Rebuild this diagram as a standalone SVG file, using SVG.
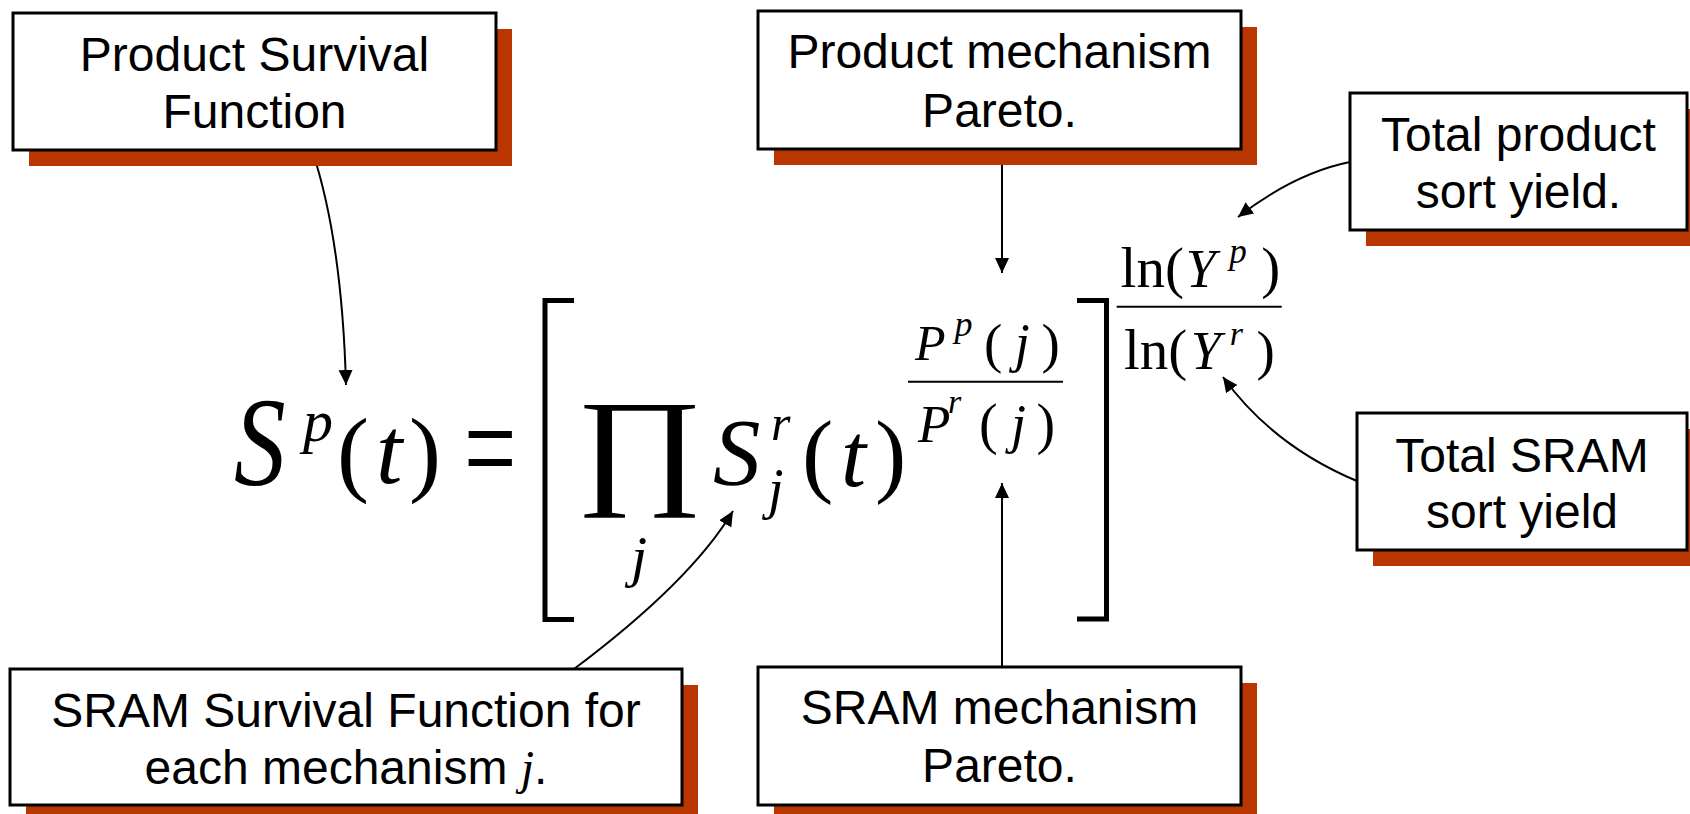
<svg xmlns="http://www.w3.org/2000/svg" width="1690" height="814" viewBox="0 0 1690 814">
<defs>
<marker id="ah" markerUnits="userSpaceOnUse" markerWidth="16" markerHeight="15" refX="15" refY="7" orient="auto">
<path d="M0,0 L15,7 L0,14 z" fill="#000"/>
</marker>
<style>
.box{fill:#fff;stroke:#000;stroke-width:3}
.sh{fill:#BA3600}
.lbl{font-family:"Liberation Sans",Arial,sans-serif;font-size:48px;fill:#000;text-anchor:middle}
.con{fill:none;stroke:#000;stroke-width:2;marker-end:url(#ah)}
.m{font-family:"Liberation Serif","Times New Roman",serif;fill:#000}
.mi{font-family:"Liberation Serif","Times New Roman",serif;font-style:italic;fill:#000}
.br{fill:none;stroke:#000;stroke-width:5}
.fl{stroke:#000;stroke-width:2}
</style>
</defs>
<rect width="1690" height="814" fill="#fff"/>

<g id="connectors">
<path class="con" d="M312,150 Q342,240 346,385"/>
<path class="con" d="M1002,149 L1002,273"/>
<path class="con" d="M1002,667 L1002,483"/>
<path class="con" d="M574,669 Q690.6,581.6 733,511"/>
<path class="con" d="M1350,162 Q1295,173 1238,217"/>
<path class="con" d="M1357,481 Q1272.6,445.6 1223,377"/>
</g>

<g id="formula">
<text class="mi" font-size="126" transform="translate(234,485) scale(0.82,1)">S</text>
<text class="mi" font-size="60" x="303" y="440.7">p</text>
<text class="m" font-size="96" x="337" y="484">(</text>
<text class="mi" font-size="95" x="376" y="483">t</text>
<text class="m" font-size="96" x="409" y="484">)</text>
<text class="m" font-size="93" transform="translate(464,495) scale(1,1.5)">=</text>
<polyline class="br" points="574,300.5 545,300.5 545,619.5 574,619.5"/>
<text class="m" font-size="130" transform="translate(576,490) scale(1.19,1)">∏</text>
<text class="mi" font-size="58" x="631" y="576">j</text>
<text class="mi" font-size="95" x="713" y="485">S</text>
<text class="mi" font-size="50" x="771" y="440">r</text>
<text class="mi" font-size="56" x="768" y="508">j</text>
<text class="m" font-size="94" x="802" y="485">(</text>
<text class="mi" font-size="90" x="841" y="486">t</text>
<text class="m" font-size="94" x="875" y="485">)</text>
<text class="mi" font-size="50" x="915" y="360">P</text>
<text class="mi" font-size="36" x="954.4" y="335.6">p</text>
<text class="m" font-size="55" x="984" y="362">(</text>
<text class="mi" font-size="54" x="1014.8" y="360.5">j</text>
<text class="m" font-size="55" x="1041.4" y="362">)</text>
<line class="fl" x1="908" y1="381.7" x2="1063" y2="381.7"/>
<text class="mi" font-size="53" x="918" y="441.7">P</text>
<text class="mi" font-size="34" x="948" y="413">r</text>
<text class="m" font-size="56" x="979" y="443">(</text>
<text class="mi" font-size="54" x="1011" y="441.8">j</text>
<text class="m" font-size="56" x="1036.4" y="443">)</text>
<polyline class="br" points="1077,300.5 1106.5,300.5 1106.5,619 1077,619"/>
<text class="m" font-size="57" x="1120.6" y="286.7">ln(</text>
<text class="mi" font-size="54" x="1185.8" y="286.7">Y</text>
<text class="mi" font-size="35" x="1229.3" y="262.8">p</text>
<text class="m" font-size="57" x="1261.3" y="286.7">)</text>
<line class="fl" x1="1116.7" y1="306.7" x2="1281.7" y2="306.7"/>
<text class="m" font-size="57" x="1124" y="369.3">ln(</text>
<text class="mi" font-size="54" x="1190.8" y="369">Y</text>
<text class="mi" font-size="34" x="1229.7" y="345">r</text>
<text class="m" font-size="55" x="1256.4" y="368.6">)</text>
</g>

<g id="product-survival">
<rect class="sh" x="29" y="29" width="483" height="137"/>
<rect class="box" x="13" y="13" width="483" height="137"/>
<text class="lbl" x="254.5" y="71">Product Survival</text>
<text class="lbl" x="254.5" y="128">Function</text>
</g>

<g id="product-pareto">
<rect class="sh" x="774" y="27" width="483" height="138"/>
<rect class="box" x="758" y="11" width="483" height="138"/>
<text class="lbl" x="999.5" y="68">Product mechanism</text>
<text class="lbl" x="999.5" y="127">Pareto.</text>
</g>

<g id="product-yield">
<rect class="sh" x="1366" y="109" width="337" height="137"/>
<rect class="box" x="1350" y="93" width="337" height="137"/>
<text class="lbl" x="1518.5" y="151">Total product</text>
<text class="lbl" x="1518.5" y="208">sort yield.</text>
</g>

<g id="sram-yield">
<rect class="sh" x="1373" y="429" width="330" height="137"/>
<rect class="box" x="1357" y="413" width="330" height="137"/>
<text class="lbl" x="1522" y="472">Total SRAM</text>
<text class="lbl" x="1522" y="528">sort yield</text>
</g>

<g id="sram-survival">
<rect class="sh" x="26" y="685" width="672" height="136"/>
<rect class="box" x="10" y="669" width="672" height="136"/>
<text class="lbl" x="346" y="727">SRAM Survival Function for</text>
<text class="lbl" x="346" y="784">each mechanism <tspan font-family="Liberation Serif,Times New Roman,serif" font-style="italic">j</tspan>.</text>
</g>

<g id="sram-pareto">
<rect class="sh" x="774" y="683" width="483" height="138"/>
<rect class="box" x="758" y="667" width="483" height="138"/>
<text class="lbl" x="999.5" y="724">SRAM mechanism</text>
<text class="lbl" x="999.5" y="782">Pareto.</text>
</g>
</svg>
